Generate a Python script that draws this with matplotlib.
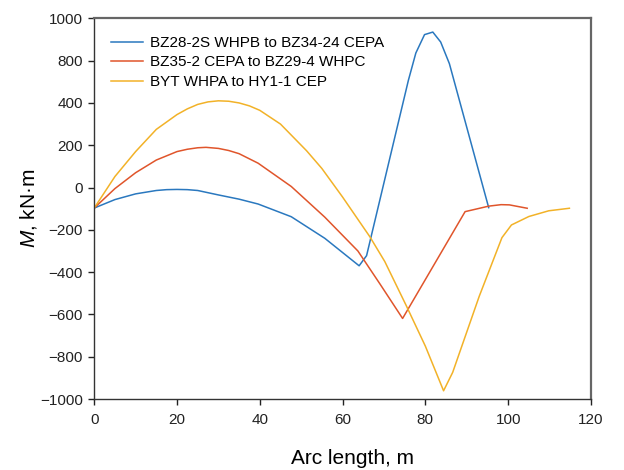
import matplotlib
matplotlib.use("Agg")
import matplotlib.pyplot as plt

plt.rcParams['font.family'] = ['Liberation Sans', 'DejaVu Sans']
plt.rcParams['mathtext.fontset'] = 'custom'
plt.rcParams['mathtext.it'] = 'Liberation Sans:italic'
plt.rcParams['mathtext.rm'] = 'Liberation Sans'

# data (arc length in m, moment in kN*m)
blue_label = 'BZ28-2S WHPB to BZ34-24 CEPA'
blue_x = [0, 5, 10, 15, 17.5, 20, 22.5, 25, 30, 35, 39.6, 47.6, 55.7, 64.0, 65.8,
          75.9, 77.7, 79.8, 81.8, 83.7, 85.8, 95.3]
blue_y = [-97, -57, -30, -14, -10, -9, -10, -14, -35, -55, -78, -138, -240, -370, -322,
          507, 636, 723, 735, 688, 586, -95]

red_label = 'BZ35-2 CEPA to BZ29-4 WHPC'
red_x = [0, 5, 10, 15, 20, 22.5, 25, 27, 30, 32.5, 35, 39.6, 47.6, 55.7, 63.7, 69, 74.5,
         89.6, 95.3, 98.3, 100.3, 104.6]
red_y = [-97, -5, 70, 130, 170, 181, 188, 190, 185, 175, 160, 115, 5, -140, -300, -455, -619,
         -114, -88, -81, -82, -98]

yellow_label = 'BYT WHPA to HY1-1 CEP'
yellow_x = [0, 5, 10, 15, 20, 22.5, 25, 27.5, 30, 32.5, 35, 37.5, 40, 45, 51.3, 55, 60, 66.6,
            70.2, 75.4, 80, 84.4, 86.6, 93, 98.5, 100.8, 105.0, 109.8, 114.8]
yellow_y = [-97, 52, 170, 275, 345, 372, 393, 405, 410, 408, 400, 386, 365, 300, 174, 90, -45, -233,
            -350, -559, -750, -961, -874, -515, -237, -177, -137, -110, -98]

# tick labels as printed in the reference
ytick_vals = [-1000, -800, -600, -400, -200, 0, 200, 400, 600, 800]
ytick_text = ['\u22121000', '\u2212800', '\u2212600', '\u2212400', '\u2212200', '0', '200', '400', '800', '1000']
xtick_vals = [0, 20, 40, 60, 80, 100, 120]

fig = plt.figure(figsize=(6.24, 4.70), dpi=100)
ax = fig.add_axes([0.151, 0.151, 0.796, 0.810])

ax.plot(blue_x, blue_y, color='#2A78BF', lw=1.1, label=blue_label)
ax.plot(red_x, red_y, color='#E0552B', lw=1.1, label=red_label)
ax.plot(yellow_x, yellow_y, color='#F2B228', lw=1.1, label=yellow_label)

ax.set_xlim(0, 120)
ax.set_ylim(-1000, 800)
ax.set_xticks(xtick_vals)
ax.set_yticks(ytick_vals, ytick_text)
ax.tick_params(direction='out', length=4, width=1, labelsize=11, colors='#222222',
               top=False, right=False)
ax.tick_params(axis='x', pad=6)
ax.tick_params(axis='y', pad=4)

for side in ['left', 'bottom']:
    ax.spines[side].set_color('#333333')
    ax.spines[side].set_linewidth(1.0)
for side in ['top', 'right']:
    ax.spines[side].set_color('#666666')
    ax.spines[side].set_linewidth(1.6)

ax.set_xlabel('Arc length, m', fontsize=15)
ax.xaxis.set_label_coords(0.52, -0.131)
ax.set_ylabel(r'$M$, kN·m', fontsize=15, labelpad=1)

ax.legend(loc='upper left', frameon=False, fontsize=11, handlelength=2.1,
          handletextpad=0.45, labelspacing=0.36, borderaxespad=0.0,
          bbox_to_anchor=(0.022, 0.97))

fig.savefig('out.png', dpi=100)
